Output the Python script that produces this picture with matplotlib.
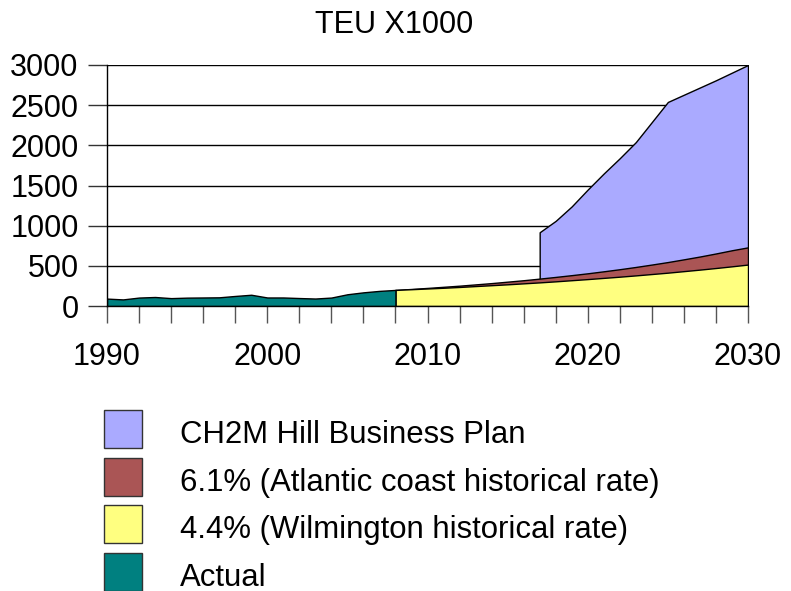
import matplotlib
matplotlib.use("Agg")
import matplotlib.pyplot as plt
from matplotlib.patches import Rectangle

plt.rcParams['font.family'] = ['Liberation Sans', 'DejaVu Sans']

# actual throughput, TEU x1000
actual_years = list(range(1990, 2009))
actual = [92, 82, 105, 112, 98, 104, 106, 108, 125, 140, 106, 106, 99, 93, 105,
          146, 170, 188, 200]

# projections from 2008
proj_years = list(range(2008, 2031))
wilmington_44 = [200, 209, 218, 227, 237, 248, 259, 270, 282, 294, 307, 321,
                 335, 350, 365, 381, 398, 415, 434, 453, 473, 494, 516]
atlantic_61 = [200, 212, 225, 239, 253, 269, 285, 303, 321, 341, 362, 384,
               407, 432, 458, 486, 516, 547, 581, 616, 654, 694, 730]

plan_years = list(range(2017, 2031))
business_plan = [918, 1060, 1240, 1450, 1650, 1840, 2040, 2290, 2540, 2630,
                 2720, 2810, 2905, 3000]

labels = ['CH2M Hill Business Plan',
          '6.1% (Atlantic coast historical rate)',
          '4.4% (Wilmington historical rate)',
          'Actual']
colors = ['#aaaaff', '#aa5555', '#ffff80', '#008080']

fig = plt.figure(figsize=(7.91, 5.91), dpi=100)
ax = fig.add_axes([107 / 791, 1 - 306 / 591, 641 / 791, 241 / 591])

ax.fill_between(plan_years, 0, business_plan, facecolor=colors[0],
                edgecolor='black', linewidth=1, zorder=2)
ax.fill_between(proj_years, 0, atlantic_61, facecolor=colors[1],
                edgecolor='black', linewidth=1, zorder=3)
ax.fill_between(proj_years, 0, wilmington_44, facecolor=colors[2],
                edgecolor='black', linewidth=1, zorder=4)
ax.fill_between(actual_years, 0, actual, facecolor=colors[3],
                edgecolor='black', linewidth=1, zorder=5)

ax.set_xlim(1990, 2030)
ax.set_ylim(0, 3000)
ax.set_yticks(range(0, 3001, 500))
ax.set_xticks(range(1990, 2031, 10))
ax.set_xticks(range(1990, 2031, 2), minor=True)
ax.grid(axis='y', color='black', linewidth=1, zorder=1)
ax.set_axisbelow(True)

for side in ['top', 'right']:
    ax.spines[side].set_visible(False)
for side in ['left', 'bottom']:
    ax.spines[side].set_linewidth(1)
    ax.spines[side].set_zorder(6)

ax.tick_params(axis='y', direction='out', length=13.5, width=1, labelsize=22,
               pad=7, color='#333333')
ax.tick_params(axis='x', which='both', direction='out', length=12.2, width=1,
               labelsize=22, pad=14, color='#555555')
ax.tick_params(axis='x', which='minor', labelbottom=False)

fig.text(0.498, 1 - 33 / 591, 'TEU X1000', ha='center', va='baseline',
         fontsize=22)

# legend drawn as boxes and labels under the chart
box_tops = [410, 457.5, 505, 552.5]
for top, lab, col in zip(box_tops, labels, colors):
    fig.patches.append(Rectangle((104 / 791, 1 - (top + 38) / 591),
                                 38 / 791, 38 / 591, facecolor=col,
                                 edgecolor='#333333', linewidth=1,
                                 transform=fig.transFigure, figure=fig))
    fig.text(180 / 791, 1 - (top + 33) / 591, lab, ha='left',
             va='baseline', fontsize=22.4)

fig.savefig('out.png', dpi=100)
